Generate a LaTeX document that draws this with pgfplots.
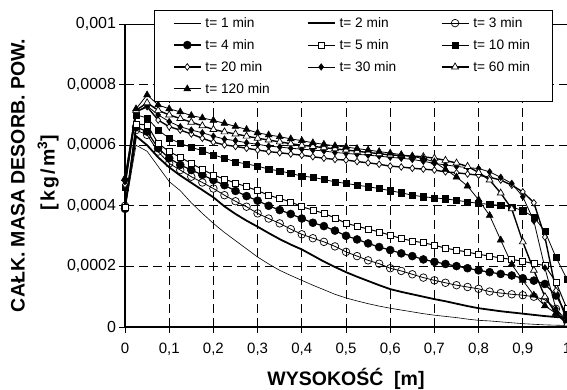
\documentclass[border=0pt]{standalone}
\usepackage{fontspec}
\setmainfont{Liberation Sans}
\usepackage{pgfplots}
\pgfplotsset{compat=1.18}
\usepackage{pgfplotstable}
\usetikzlibrary{calc}

\pgfplotstableread{
x     t1       t2       t3       t4       t5       t10      t20      t30      t60      t120
0     0.000390 0.000395 0.000400 0.000390 0.000395 0.000460 0.000470 0.000480 0.000490 0.000490
0.025 0.000600 0.000630 0.000650 0.000660 0.000670 0.000700 0.000710 0.000710 0.000715 0.000720
0.05  0.000580 0.000600 0.000634 0.000645 0.000667 0.000690 0.000727 0.000730 0.000740 0.000766
0.075 0.000530 0.000560 0.000579 0.000590 0.000606 0.000650 0.000683 0.000700 0.000715 0.000733
0.1   0.000480 0.000527 0.000540 0.000557 0.000579 0.000623 0.000661 0.000678 0.000700 0.000720
0.125 0.000450 0.000500 0.000518 0.000535 0.000560 0.000606 0.000650 0.000661 0.000688 0.000710
0.15  0.000410 0.000476 0.000496 0.000518 0.000540 0.000593 0.000637 0.000650 0.000676 0.000698
0.175 0.000375 0.000452 0.000477 0.000502 0.000520 0.000582 0.000623 0.000641 0.000664 0.000690
0.2   0.000342 0.000428 0.000457 0.000485 0.000502 0.000568 0.000610 0.000630 0.000652 0.000682
0.225 0.000312 0.000398 0.000435 0.000468 0.000488 0.000557 0.000601 0.000620 0.000644 0.000672
0.25  0.000285 0.000373 0.000415 0.000449 0.000475 0.000545 0.000596 0.000615 0.000637 0.000662
0.275 0.000258 0.000351 0.000397 0.000432 0.000463 0.000538 0.000590 0.000608 0.000630 0.000652
0.3   0.000231 0.000331 0.000375 0.000417 0.000450 0.000531 0.000584 0.000603 0.000623 0.000641
0.325 0.000208 0.000310 0.000358 0.000400 0.000435 0.000521 0.000579 0.000597 0.000617 0.000634
0.35  0.000187 0.000290 0.000342 0.000386 0.000424 0.000515 0.000575 0.000594 0.000611 0.000628
0.375 0.000170 0.000272 0.000323 0.000373 0.000413 0.000507 0.000571 0.000590 0.000605 0.000621
0.4   0.000154 0.000256 0.000306 0.000358 0.000397 0.000498 0.000567 0.000587 0.000600 0.000615
0.425 0.000138 0.000236 0.000293 0.000344 0.000386 0.000494 0.000562 0.000584 0.000596 0.000608
0.45  0.000123 0.000216 0.000281 0.000333 0.000375 0.000487 0.000557 0.000581 0.000592 0.000603
0.475 0.000108 0.000198 0.000266 0.000318 0.000360 0.000479 0.000553 0.000576 0.000588 0.000598
0.5   0.000096 0.000181 0.000248 0.000301 0.000342 0.000474 0.000551 0.000573 0.000584 0.000594
0.525 0.000086 0.000166 0.000234 0.000289 0.000333 0.000468 0.000546 0.000570 0.000580 0.000589
0.55  0.000077 0.000152 0.000220 0.000276 0.000323 0.000463 0.000542 0.000567 0.000576 0.000584
0.575 0.000069 0.000138 0.000209 0.000264 0.000314 0.000457 0.000537 0.000564 0.000572 0.000579
0.6   0.000062 0.000125 0.000194 0.000254 0.000303 0.000450 0.000531 0.000560 0.000568 0.000574
0.625 0.000056 0.000116 0.000185 0.000243 0.000292 0.000443 0.000528 0.000557 0.000566 0.000569
0.65  0.000050 0.000108 0.000174 0.000234 0.000284 0.000435 0.000524 0.000553 0.000564 0.000563
0.675 0.000044 0.000100 0.000163 0.000223 0.000278 0.000430 0.000521 0.000547 0.000562 0.000556
0.7   0.000039 0.000092 0.000154 0.000215 0.000270 0.000426 0.000518 0.000540 0.000557 0.000545
0.725 0.000035 0.000085 0.000146 0.000208 0.000260 0.000423 0.000512 0.000535 0.000550 0.000520
0.75  0.000031 0.000077 0.000138 0.000201 0.000254 0.000418 0.000509 0.000530 0.000541 0.000495
0.775 0.000026 0.000069 0.000132 0.000194 0.000247 0.000413 0.000505 0.000526 0.000530 0.000465
0.8   0.000022 0.000062 0.000126 0.000187 0.000240 0.000408 0.000501 0.000523 0.000510 0.000420
0.825 0.000020 0.000057 0.000117 0.000181 0.000234 0.000405 0.000494 0.000512 0.000485 0.000368
0.85  0.000017 0.000052 0.000112 0.000175 0.000228 0.000401 0.000485 0.000494 0.000442 0.000287
0.875 0.000014 0.000048 0.000108 0.000170 0.000223 0.000396 0.000468 0.000474 0.000390 0.000207
0.9   0.000011 0.000044 0.000105 0.000161 0.000217 0.000384 0.000446 0.000430 0.000281 0.000154
0.925 0.000009 0.000040 0.000100 0.000153 0.000209 0.000363 0.000410 0.000350 0.000187 0.000105
0.95  0.000007 0.000036 0.000090 0.000142 0.000203 0.000316 0.000297 0.000195 0.000100 0.000070
0.975 0.000006 0.000033 0.000060 0.000104 0.000148 0.000230 0.000120 0.000060 0.000045 0.000045
1     0.000005 0.000030 0.000020 0.000040 0.000060 0.000158 0.000020 0.000010 0.000010 0.000020
}\datatable

\newcommand{\legtxt}[1]{\makebox[64pt][l]{\hspace{4pt}#1}}

\begin{document}
\begin{tikzpicture}
\begin{axis}[
  name=main,
  scale only axis, width=442pt, height=303pt,
  xmin=0, xmax=1, ymin=0, ymax=0.001,
  clip=false,
  xtick={0,0.1,0.2,0.3,0.4,0.5,0.6,0.7,0.8,0.9,1},
  ytick={0,0.0002,0.0004,0.0006,0.0008,0.001},
  scaled x ticks=false, scaled y ticks=false,
  /pgf/number format/use comma,
  /pgf/number format/fixed,
  /pgf/number format/precision=4,
  /pgf/number format/assume math mode=true,
  axis x line=bottom, axis y line=left,
  every outer x axis line/.append style={-},
  every outer y axis line/.append style={-},
  every inner x axis line/.append style={-},
  every inner y axis line/.append style={-},
  x axis line style={-, line width=1.8pt},
  y axis line style={-, line width=1.2pt},
  tick align=outside,
  major tick length=5.5pt,
  tick style={black, line width=0.8pt},
  xticklabel style={font=\fontsize{15}{18}\selectfont, yshift=-7pt},
  yticklabel style={font=\fontsize{16}{18}\selectfont},
  grid=major,
  major grid style={black, line width=0.7pt, dash pattern=on 9pt off 5pt},
  xlabel={WYSOKOŚĆ\ \ [m]},
  xlabel style={font=\fontsize{19.5}{24}\selectfont\bfseries, at={(axis description cs:0.5,0)}, anchor=base, yshift=-58pt},
  ylabel={CAŁK. MASA DESORB. POW.\\{}\hspace*{6pt}{\addfontfeature{LetterSpace=12}[kg/m\textsuperscript{3}]}},
  ylabel style={font=\fontsize{19.5}{30}\selectfont\bfseries, align=center, at={(axis description cs:-0.1493,0.5)}, anchor=south, inner sep=0pt},
  legend columns=3,
  legend cell align=left,
  legend image code/.code={\draw[mark repeat=2,mark phase=2,#1] plot coordinates {(0pt,0pt) (13.5pt,0pt) (27pt,0pt)};},
  legend style={at={(axis description cs:0.0656,1.0462)}, anchor=north west,
    draw=black, line width=0.8pt, fill=white,
    font=\fontsize{13.7}{16}\selectfont,
    nodes={inner sep=0pt},
    inner xsep=18.7pt, inner ysep=7pt,
    row sep=10.5pt,
    /tikz/every even column/.append style={column sep=41.3pt}},
]
\addplot[black, line width=0.6pt, no marks] table[x=x,y=t1]{\datatable};
\addlegendentry{\legtxt{t= 1 min}}
\addplot[black, line width=1.8pt, no marks] table[x=x,y=t2]{\datatable};
\addlegendentry{\legtxt{t= 2 min}}
\addplot[black, line width=0.8pt, mark=o, mark size=3.8pt, mark options={fill=white, line width=0.7pt}] table[x=x,y=t3]{\datatable};
\addlegendentry{\legtxt{t= 3 min}}
\addplot[black, line width=1.2pt, mark=*, mark size=4pt, mark options={line width=0.5pt}] table[x=x,y=t4]{\datatable};
\addlegendentry{\legtxt{t= 4 min}}
\addplot[black, line width=1.0pt, mark=square*, mark size=3pt, mark options={fill=white, line width=0.7pt}] table[x=x,y=t5]{\datatable};
\addlegendentry{\legtxt{t= 5 min}}
\addplot[black, line width=0.8pt, mark=square*, mark size=3.1pt, mark options={line width=0.5pt}] table[x=x,y=t10]{\datatable};
\addlegendentry{\legtxt{t= 10 min}}
\addplot[black, line width=1.4pt, mark=diamond*, mark size=3.3pt, mark options={fill=white, line width=0.7pt}] table[x=x,y=t20]{\datatable};
\addlegendentry{\legtxt{t= 20 min}}
\addplot[black, line width=0.8pt, mark=diamond*, mark size=3.3pt, mark options={line width=0.5pt}] table[x=x,y=t30]{\datatable};
\addlegendentry{\legtxt{t= 30 min}}
\addplot[black, line width=1.4pt, mark=triangle*, mark size=4pt, mark options={fill=white, line width=0.7pt}] table[x=x,y=t60]{\datatable};
\addlegendentry{\legtxt{t= 60 min}}
\addplot[black, line width=0.8pt, mark=triangle*, mark size=4pt, mark options={line width=0.5pt}] table[x=x,y=t120]{\datatable};
\addlegendentry{\legtxt{t= 120 min}}
\draw[black, line width=0.8pt] (rel axis cs:0,1) -- (rel axis cs:1,1);
\end{axis}
\pgfresetboundingbox
\useasboundingbox ($(main.south west)+(-125pt,-62pt)$) rectangle ($(main.north east)+(0pt,24pt)$);
\end{tikzpicture}
\end{document}
